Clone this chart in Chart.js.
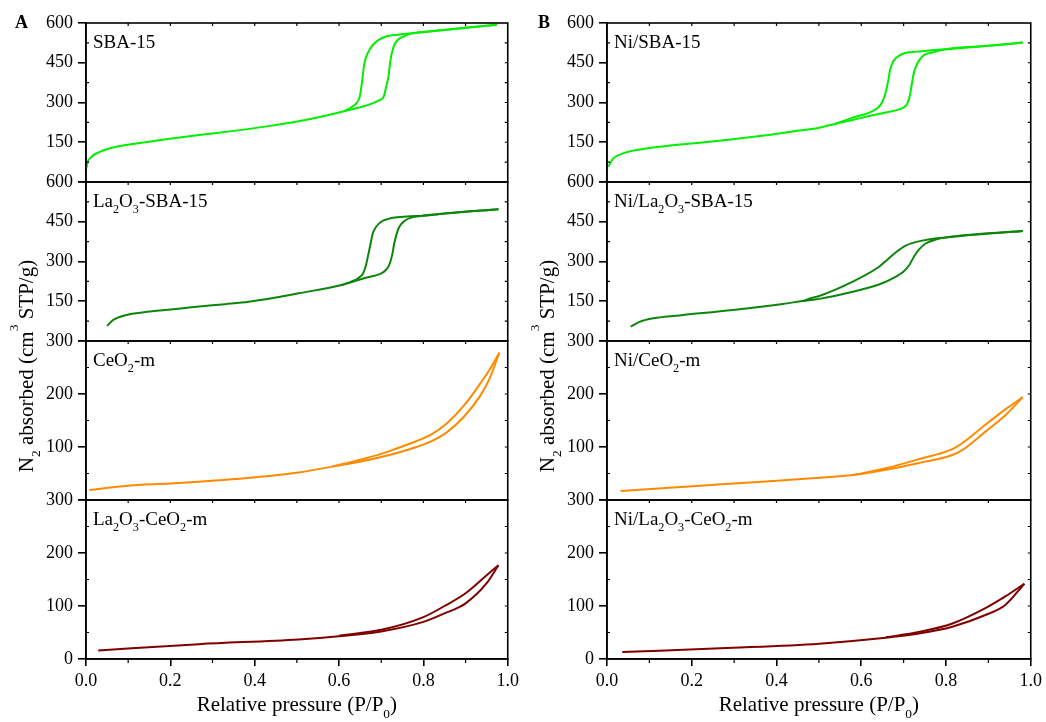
<!DOCTYPE html>
<html>
<head>
<meta charset="utf-8">
<title>N2 adsorption-desorption isotherms</title>
<script src="https://cdn.jsdelivr.net/npm/chart.js@4/dist/chart.umd.min.js"></script>
<style>
  html, body { margin: 0; padding: 0; background: #fff; }
  #wrap { position: relative; width: 1046px; height: 722px; overflow: hidden; }
  .panel { position: absolute; top: 0; width: 523px; height: 722px; }
</style>
</head>
<body>
<div id="wrap">
  <div class="panel" style="left:0"><canvas id="chartA" width="523" height="722"></canvas></div>
  <div class="panel" style="left:523px"><canvas id="chartB" width="523" height="722"></canvas></div>
</div>
<script>
// ---- Isotherm data: relative pressure P/P0 and N2 uptake (cm3 STP/g) ----
// "Ads" = adsorption branch, "Des" = desorption branch.

// Panel A
const sba15AdsP = [0.001, 0.003, 0.013, 0.033, 0.072, 0.111, 0.19, 0.268, 0.347, 0.425, 0.504, 0.609, 0.696, 0.706, 0.711, 0.717, 0.721, 0.725, 0.731, 0.739, 0.751, 0.770, 0.794, 0.85, 0.9, 0.974];
const sba15AdsV = [52, 70, 95, 114, 133, 143, 161, 177, 192, 209, 229, 266, 309, 322, 354, 397, 448, 486, 517, 536, 548, 559, 565, 574, 582, 593];
const sba15DesP = [0.613, 0.629, 0.641, 0.649, 0.653, 0.657, 0.660, 0.668, 0.680, 0.696, 0.715, 0.739, 0.770, 0.794, 0.85, 0.9, 0.974];
const sba15DesV = [267, 282, 297, 322, 360, 410, 448, 486, 517, 538, 551, 556, 561, 565, 574, 582, 593];

const laSba15AdsP = [0.05, 0.064, 0.096, 0.151, 0.268, 0.33, 0.386, 0.45, 0.504, 0.606, 0.66, 0.70, 0.711, 0.719, 0.726, 0.731, 0.737, 0.743, 0.755, 0.774, 0.794, 0.857, 0.978];
const laSba15AdsV = [57, 79, 98, 111, 130, 139, 148, 164, 180, 211, 237, 255, 268, 287, 325, 369, 406, 431, 453, 467, 472, 482, 497];
const laSba15DesP = [0.606, 0.629, 0.645, 0.657, 0.664, 0.670, 0.675, 0.680, 0.688, 0.700, 0.715, 0.739, 0.770, 0.794, 0.857, 0.978];
const laSba15DesV = [211, 224, 237, 255, 287, 331, 369, 406, 431, 450, 460, 467, 471, 472, 482, 497];

const ceo2AdsP = [0.008, 0.1, 0.2, 0.33, 0.504, 0.584, 0.66, 0.70, 0.739, 0.78, 0.817, 0.856, 0.896, 0.935, 0.958, 0.98];
const ceo2AdsV = [19, 27, 31, 38, 52, 63, 74, 81, 89, 99, 110, 128, 157, 197, 231, 278];
const ceo2DesP = [0.584, 0.66, 0.70, 0.739, 0.78, 0.817, 0.856, 0.896, 0.935, 0.958, 0.98];
const ceo2DesV = [63, 78, 87, 98, 110, 123, 145, 178, 220, 247, 278];

const laCeo2AdsP = [0.029, 0.268, 0.504, 0.6, 0.7, 0.8, 0.85, 0.9, 0.95, 0.978];
const laCeo2AdsV = [16, 28, 37, 43, 52, 70, 86, 105, 143, 177];
const laCeo2DesP = [0.6, 0.7, 0.8, 0.85, 0.9, 0.95, 0.978];
const laCeo2DesV = [44, 55, 79, 100, 124, 158, 177];

// Panel B
const niSba15AdsP = [0.003, 0.015, 0.038, 0.078, 0.14, 0.219, 0.297, 0.376, 0.454, 0.501, 0.54, 0.58, 0.619, 0.658, 0.689, 0.701, 0.709, 0.715, 0.719, 0.723, 0.729, 0.737, 0.748, 0.768, 0.799, 0.9, 0.981];
const niSba15AdsV = [58, 89, 108, 123, 136, 148, 161, 176, 194, 205, 220, 234, 249, 262, 274, 282, 297, 328, 366, 404, 435, 460, 479, 489, 501, 514, 526];
const niSba15DesP = [0.54, 0.58, 0.619, 0.638, 0.650, 0.658, 0.664, 0.668, 0.675, 0.686, 0.701, 0.729, 0.76, 0.799, 0.9, 0.981];
const niSba15DesV = [220, 243, 262, 278, 303, 341, 385, 423, 454, 473, 486, 492, 496, 501, 514, 526];

const niLaSba15AdsP = [0.056, 0.078, 0.109, 0.18, 0.297, 0.415, 0.462, 0.501, 0.58, 0.642, 0.682, 0.70, 0.713, 0.725, 0.736, 0.752, 0.776, 0.80, 0.981];
const niLaSba15AdsV = [54, 73, 86, 98, 117, 140, 151, 159, 186, 213, 243, 262, 286, 320, 345, 368, 383, 391, 415];
const niLaSba15DesP = [0.462, 0.485, 0.501, 0.58, 0.642, 0.66, 0.682, 0.705, 0.736, 0.80, 0.981];
const niLaSba15DesV = [151, 163, 170, 224, 280, 305, 335, 360, 376, 391, 415];

const niCeo2AdsP = [0.032, 0.219, 0.376, 0.501, 0.58, 0.658, 0.736, 0.815, 0.838, 0.893, 0.94, 0.981];
const niCeo2AdsV = [17, 27, 35, 42, 47, 57, 70, 85, 94, 129, 160, 194];
const niCeo2DesP = [0.58, 0.658, 0.736, 0.815, 0.838, 0.893, 0.94, 0.981];
const niCeo2DesV = [47, 60, 77, 96, 107, 142, 171, 194];

const niLaCeo2AdsP = [0.036, 0.297, 0.501, 0.658, 0.736, 0.815, 0.893, 0.94, 0.985];
const niLaCeo2AdsV = [13, 21, 29, 40, 48, 61, 83, 102, 142];
const niLaCeo2DesP = [0.658, 0.736, 0.815, 0.893, 0.94, 0.985];
const niLaCeo2DesV = [41, 51, 67, 96, 118, 142];

// Sample names ("_d" marks a subscript digit)
const namesA = ['SBA-15', 'La_2O_3-SBA-15', 'CeO_2-m', 'La_2O_3-CeO_2-m'];
const namesB = ['Ni/SBA-15', 'Ni/La_2O_3-SBA-15', 'Ni/CeO_2-m', 'Ni/La_2O_3-CeO_2-m'];

// Axis texts ("_d" subscript, "^d" superscript)
const xTitle = 'Relative pressure (P/P_0)';
const yTitle = 'N_2 absorbed (cm^3 STP/g)';

// ---- Drawing ----
const SERIF = '"Liberation Serif", "Times New Roman", serif';
const AXIS_FONT = { family: SERIF, size: 18 };
const COLORS = ['#00f000', '#0b860b', '#ff8a00', '#800000'];

function richParts(text) {
  return text.split(/([_^]\d)/).filter(s => s.length);
}
function richWidth(ctx, text, size) {
  let w = 0;
  for (const part of richParts(text)) {
    const small = part[0] === '_' || part[0] === '^';
    ctx.font = `${small ? size * 0.64 : size}px ${SERIF}`;
    w += ctx.measureText(small ? part.slice(1) : part).width;
  }
  return w;
}
function drawRich(ctx, text, x, y, size) {
  let cx = x;
  for (const part of richParts(text)) {
    let t = part, s = size, dy = 0;
    if (part[0] === '_') { t = part.slice(1); s = size * 0.64; dy = size * 0.33; }
    else if (part[0] === '^') { t = part.slice(1); s = size * 0.64; dy = -size * 0.7; }
    ctx.font = `${s}px ${SERIF}`;
    ctx.fillText(t, cx, y + dy);
    cx += ctx.measureText(t).width;
  }
}

const isoFrame = {
  id: 'isoFrame',
  afterDraw(chart, args, opts) {
    const ctx = chart.ctx;
    const area = chart.chartArea;
    const xs = chart.scales.x;
    ctx.save();
    ctx.strokeStyle = '#000';
    ctx.fillStyle = '#000';
    ctx.textAlign = 'left';
    ctx.textBaseline = 'alphabetic';

    opts.panels.forEach((p, i) => {
      const ys = chart.scales['y' + (i + 1)];
      // sub-panel box
      ctx.lineWidth = 1.6;
      ctx.strokeRect(area.left, ys.top, area.right - area.left, ys.bottom - ys.top);
      // small inward ticks: left (minor), right (all), top (every 0.1)
      ctx.lineWidth = 1.2;
      ctx.beginPath();
      const halfSteps = Math.round(2 * p.max / p.step);
      for (let k = 1; k < halfSteps; k++) {
        const py = ys.getPixelForValue(k * p.step / 2);
        if (k % 2 === 1) { ctx.moveTo(area.left, py); ctx.lineTo(area.left + 3, py); }
        ctx.moveTo(area.right, py); ctx.lineTo(area.right - 3, py);
      }
      for (let j = 1; j < 10; j++) {
        const px = xs.getPixelForValue(j / 10);
        ctx.moveTo(px, ys.top); ctx.lineTo(px, ys.top + 3);
      }
      ctx.stroke();
      // sample name
      drawRich(ctx, p.name, area.left + 7, ys.top + 25, 19);
    });

    // minor outward ticks on the bottom axis
    ctx.lineWidth = 1.2;
    ctx.beginPath();
    for (let j = 1; j < 10; j += 2) {
      const px = xs.getPixelForValue(j / 10);
      ctx.moveTo(px, area.bottom); ctx.lineTo(px, area.bottom + 4);
    }
    ctx.stroke();

    // x title
    const xw = richWidth(ctx, xTitle, 21);
    drawRich(ctx, xTitle, (area.left + area.right) / 2 - xw / 2, 711, 21);

    // y title (rotated)
    const yw = richWidth(ctx, yTitle, 21);
    ctx.save();
    ctx.translate(area.left - 53, 366);
    ctx.rotate(-Math.PI / 2);
    drawRich(ctx, yTitle, -yw / 2, 0, 21);
    ctx.restore();

    // panel letter
    ctx.font = `bold 18px ${SERIF}`;
    ctx.fillText(opts.letter, 15, 28);
    ctx.restore();
  }
};

function makePanel(canvasId, letter, names, series, axisWidth, padRight) {
  const ranges = [
    { max: 600, step: 150 }, { max: 600, step: 150 },
    { max: 300, step: 100 }, { max: 300, step: 100 }
  ];
  const datasets = [];
  series.forEach((s, i) => {
    const line = (P, V, tag) => ({
      label: names[i].replace(/_/g, '') + ' ' + tag,
      data: P.map((p, k) => ({ x: p, y: V[k] })),
      yAxisID: 'y' + (i + 1),
      borderColor: COLORS[i],
      backgroundColor: COLORS[i],
      borderWidth: 2,
      pointRadius: 0,
      fill: false,
      cubicInterpolationMode: 'monotone'
    });
    datasets.push(line(s[0], s[1], 'adsorption'), line(s[2], s[3], 'desorption'));
  });

  const scales = {
    x: {
      type: 'linear', position: 'bottom', min: 0, max: 1,
      ticks: {
        stepSize: 0.2, font: AXIS_FONT, color: '#000', padding: 4,
        autoSkip: false, maxRotation: 0,
        callback: v => Number(v).toFixed(1)
      },
      grid: { drawOnChartArea: false, tickLength: 7, color: '#000', lineWidth: 1.6 },
      border: { color: '#000', width: 1.6 },
      afterFit: sc => { sc.height = 63; }
    }
  };
  ranges.forEach((r, i) => {
    const bottomPanel = i === ranges.length - 1;
    scales['y' + (i + 1)] = {
      type: 'linear', position: 'left',
      stack: 'iso', stackWeight: 1, weight: ranges.length - i,
      min: 0, max: r.max,
      ticks: {
        stepSize: r.step, font: AXIS_FONT, color: '#000', padding: 5, autoSkip: false,
        callback: v => (v === 0 && !bottomPanel) ? '' : String(v)
      },
      grid: { drawOnChartArea: false, tickLength: 8, color: '#000', lineWidth: 1.6 },
      border: { color: '#000', width: 1.6 },
      afterFit: sc => { sc.width = axisWidth; }
    };
  });

  return new Chart(document.getElementById(canvasId), {
    type: 'line',
    data: { datasets },
    options: {
      responsive: false,
      animation: false,
      events: [],
      layout: { padding: { left: 0, top: 23, right: padRight, bottom: 0 } },
      scales,
      plugins: {
        legend: { display: false },
        tooltip: { enabled: false },
        isoFrame: {
          letter,
          panels: ranges.map((r, i) => ({ name: names[i], max: r.max, step: r.step }))
        }
      }
    },
    plugins: [isoFrame]
  });
}

makePanel('chartA', 'A', namesA, [
  [sba15AdsP, sba15AdsV, sba15DesP, sba15DesV],
  [laSba15AdsP, laSba15AdsV, laSba15DesP, laSba15DesV],
  [ceo2AdsP, ceo2AdsV, ceo2DesP, ceo2DesV],
  [laCeo2AdsP, laCeo2AdsV, laCeo2DesP, laCeo2DesV]
], 86, 12);

makePanel('chartB', 'B', namesB, [
  [niSba15AdsP, niSba15AdsV, niSba15DesP, niSba15DesV],
  [niLaSba15AdsP, niLaSba15AdsV, niLaSba15DesP, niLaSba15DesV],
  [niCeo2AdsP, niCeo2AdsV, niCeo2DesP, niCeo2DesV],
  [niLaCeo2AdsP, niLaCeo2AdsV, niLaCeo2DesP, niLaCeo2DesV]
], 84, 14);
</script>
</body>
</html>
